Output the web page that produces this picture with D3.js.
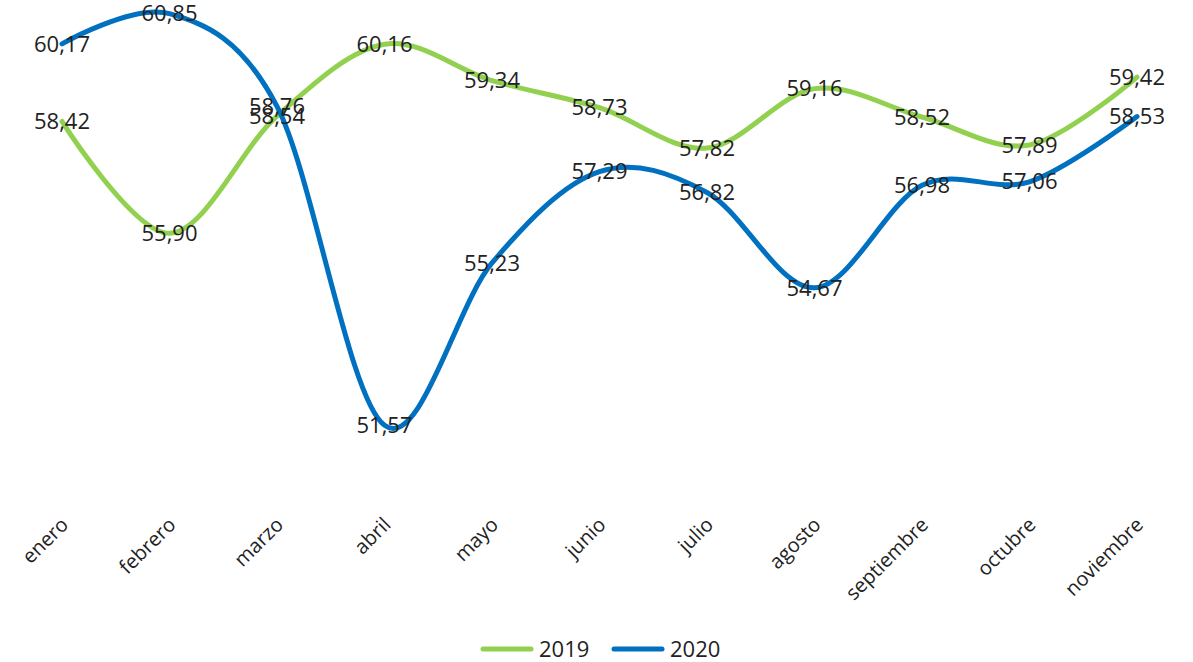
<!DOCTYPE html>
<html>
<head>
<meta charset="utf-8">
<script src="https://cdn.jsdelivr.net/npm/d3@7"></script>
<style>
  body { margin: 0; background: #fff; }
  text { font-family: "Open Sans", "Noto Sans", sans-serif; fill: #222; }
</style>
</head>
<body>
<script>
// months on the category axis
var months = ["enero", "febrero", "marzo", "abril", "mayo", "junio", "julio",
  "agosto", "septiembre", "octubre", "noviembre"];

// series values
var values2019 = [58.42, 55.90, 58.54, 60.16, 59.34, 58.73, 57.82, 59.16, 58.52, 57.89, 59.42];
var values2020 = [60.17, 60.85, 58.76, 51.57, 55.23, 57.29, 56.82, 54.67, 56.98, 57.06, 58.53];

var seriesNames = ["2019", "2020"];
var seriesColors = ["#92D050", "#0070C0"];

var svgWidth = 1193;
var svgHeight = 662;

var svg = d3.select("body")
  .append("svg")
  .attr("width", svgWidth)
  .attr("height", svgHeight);

// point scale for the months, linear scale for the values
var xScale = d3.scalePoint()
  .domain(months)
  .range([62, 1137]);

var yScale = d3.scaleLinear()
  .domain([50, 61])
  .range([495, 7]);

var series = [
  { name: seriesNames[0], color: seriesColors[0], values: values2019 },
  { name: seriesNames[1], color: seriesColors[1], values: values2020 }
];

var line = d3.line()
  .x((d, i) => xScale(months[i]))
  .y(d => yScale(d))
  .curve(d3.curveCardinal.tension(0));

var chartGroup = svg.append("g");

// smoothed lines
chartGroup.selectAll("path.series")
  .data(series)
  .enter()
  .append("path")
  .attr("class", "series")
  .attr("d", d => line(d.values))
  .attr("fill", "none")
  .attr("stroke", d => d.color)
  .attr("stroke-width", 5)
  .attr("stroke-linecap", "round");

// data labels, centered on each point
var fmt = v => v.toFixed(2).replace(".", ",");
series.forEach(function(s) {
  chartGroup.append("g")
    .selectAll("text")
    .data(s.values)
    .enter()
    .append("text")
    .attr("x", (d, i) => xScale(months[i]))
    .attr("y", d => yScale(d))
    .attr("dy", "0.35em")
    .attr("text-anchor", "middle")
    .style("font-size", "22px")
    .text(d => fmt(d));
});

// category axis, hidden line, rotated labels
var bottomAxis = d3.axisBottom(xScale).tickSize(0).tickPadding(0);
var xAxis = svg.append("g")
  .attr("transform", "translate(0, 512)")
  .call(bottomAxis);
xAxis.select(".domain").remove();
xAxis.selectAll("text")
  .style("font-size", "20px")
  .style("font-family", "\"Open Sans\", sans-serif")
  .attr("fill", "#222")
  .attr("text-anchor", "end")
  .attr("dy", "0.35em")
  .attr("y", 0)
  .attr("transform", "translate(2, 9) rotate(-45)");

// legend
var legend = svg.append("g")
  .attr("transform", "translate(481, 649)");

var legendItems = legend.selectAll("g")
  .data(series)
  .enter()
  .append("g")
  .attr("transform", (d, i) => `translate(${i * 131}, 0)`);

legendItems.append("line")
  .attr("x1", 2)
  .attr("x2", 50)
  .attr("y1", 0)
  .attr("y2", 0)
  .attr("stroke", d => d.color)
  .attr("stroke-width", 5)
  .attr("stroke-linecap", "round");

legendItems.append("text")
  .attr("x", 58)
  .attr("y", 0)
  .attr("dy", "0.35em")
  .style("font-size", "22px")
  .text(d => d.name);
</script>
</body>
</html>
